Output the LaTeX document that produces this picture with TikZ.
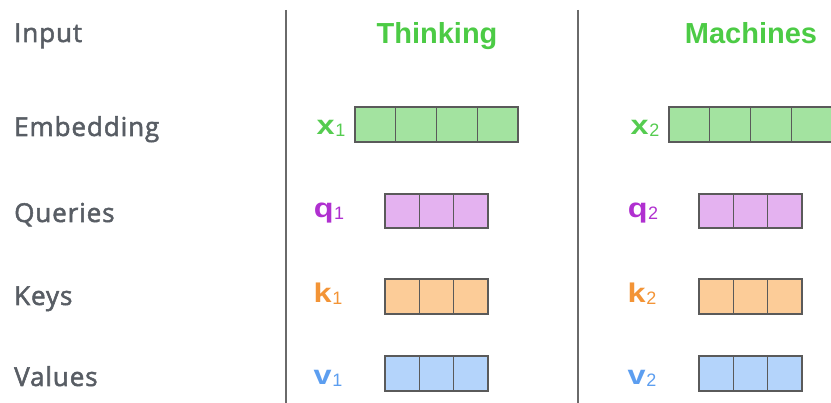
\documentclass[tikz,border=0pt]{standalone}
\usepackage{fontspec}
\setmainfont{Liberation Sans}
\newfontfamily\rowfont[FakeBold=2,LetterSpace=3.5]{Open Sans}
\definecolor{rowgray}{HTML}{585D64}
\definecolor{headgreen}{HTML}{4CCB45}
\definecolor{xgreen}{HTML}{55CC50}
\definecolor{qpurple}{HTML}{B030D0}
\definecolor{korange}{HTML}{F39436}
\definecolor{vblue}{HTML}{5C9EF0}
\definecolor{xfill}{HTML}{A3E3A0}
\definecolor{qfill}{HTML}{E4B2F0}
\definecolor{kfill}{HTML}{FCCC98}
\definecolor{vfill}{HTML}{B4D4FB}
\definecolor{cellline}{HTML}{5A5A5A}
\definecolor{divider}{HTML}{6A6A6A}
\newcommand{\veclab}[2]{\scalebox{1.2}[1]{#1}\hspace{0.5pt}{\mdseries\fontsize{18}{18}\selectfont\raisebox{-1.5pt}{#2}}}
\begin{document}
\begin{tikzpicture}[x=1pt,y=-1pt,
  rowlabel/.style={anchor=base west,inner sep=0pt,text=rowgray,font=\rowfont\fontsize{26}{26}\selectfont},
  head/.style={anchor=base,inner sep=0pt,text=headgreen,font=\bfseries\fontsize{29}{29}\selectfont},
  vlabel/.style={anchor=base,inner sep=0pt,font=\bfseries\fontsize{27}{27}\selectfont},
  cell/.style={draw=cellline,line width=1.2pt},
  divline/.style={draw=divider,line width=1.8pt}]
\useasboundingbox (0,0) rectangle (831,403);
\clip (0,0) rectangle (831,403);
% row labels
\node[rowlabel] (lin) at (14,42) {Input};
\node[rowlabel] (lemb) at (14,136) {Embedding};
\node[rowlabel] (lq) at (14,222) {Queries};
\node[rowlabel] (lk) at (14,305) {Keys};
\node[rowlabel] (lv) at (14,386) {Values};
% dividers
\coordinate (d1t) at (286,10); \coordinate (d1b) at (286,403);
\coordinate (d2t) at (578,10); \coordinate (d2b) at (578,403);
\draw[divline] (d1t) -- (d1b);
\draw[divline] (d2t) -- (d2b);
% columns
\foreach \c/\word/\dx in {1/Thinking/0, 2/Machines/314} {
  \node[head] (h\c) at (437+\dx,44) {\word};
  \node[vlabel,text=xgreen] (x\c) at (331+\dx,135) {\veclab{x}{\c}};
  \node[vlabel,text=qpurple] (q\c) at (329+\dx,218) {\veclab{q}{\c}};
  \node[vlabel,text=korange] (k\c) at (328+\dx,303) {\veclab{k}{\c}};
  \node[vlabel,text=vblue] (v\c) at (328+\dx,385) {\veclab{v}{\c}};
  \foreach \i in {0,...,3} {
    \draw[cell,fill=xfill] (355+\dx+40.75*\i,107) rectangle ++(40.75,35);
  }
  \foreach \i in {0,...,2} {
    \draw[cell,fill=qfill] (385+\dx+34.33*\i,194) rectangle ++(34.33,34);
    \draw[cell,fill=kfill] (385+\dx+34.33*\i,279) rectangle ++(34.33,35);
    \draw[cell,fill=vfill] (385+\dx+34.33*\i,356) rectangle ++(34.33,35);
  }
}
\end{tikzpicture}
\end{document}
